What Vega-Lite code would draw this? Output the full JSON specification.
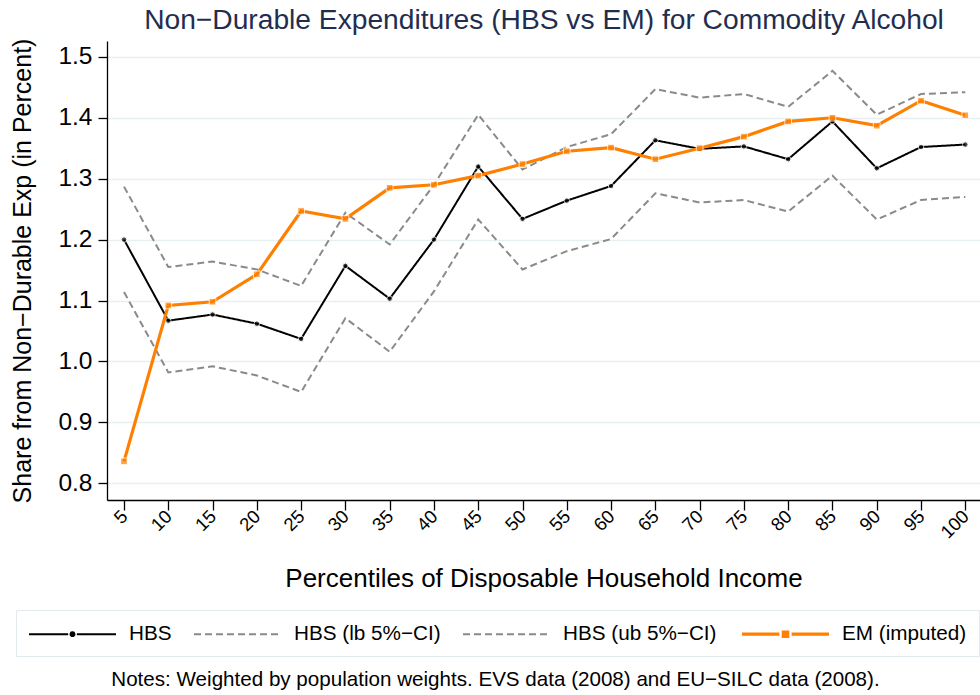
{
  "$schema": "https://vega.github.io/schema/vega-lite/v6.json",
  "width": 873,
  "height": 459,
  "autosize": {"type": "none"},
  "padding": {"left": 107, "top": 41, "right": 0, "bottom": 195},
  "background": "white",
  "config": {
    "view": {"stroke": null},
    "font": "Liberation Sans",
    "axis": {"labelFont": "Liberation Sans", "titleFont": "Liberation Sans", "labelColor": "black", "titleColor": "black", "titleFontWeight": "normal", "domainColor": "black", "tickColor": "black", "domainWidth": 1.3, "tickWidth": 1.3},
    "legend": {"labelFont": "Liberation Sans"},
    "title": {"font": "Liberation Sans"}
  },
  "title": {
    "text": "Notes: Weighted by population weights. EVS data (2008) and EU−SILC data (2008).",
    "orient": "bottom",
    "anchor": "middle",
    "frame": "bounds",
    "fontSize": 20.6,
    "fontWeight": "normal",
    "color": "black",
    "offset": 13
  },
  "data": {
    "values": [
      {"p": 5, "series": "HBS", "v": 1.200}, {"p": 10, "series": "HBS", "v": 1.067}, {"p": 15, "series": "HBS", "v": 1.077}, {"p": 20, "series": "HBS", "v": 1.062},
      {"p": 25, "series": "HBS", "v": 1.037}, {"p": 30, "series": "HBS", "v": 1.157}, {"p": 35, "series": "HBS", "v": 1.103}, {"p": 40, "series": "HBS", "v": 1.200},
      {"p": 45, "series": "HBS", "v": 1.320}, {"p": 50, "series": "HBS", "v": 1.234}, {"p": 55, "series": "HBS", "v": 1.264}, {"p": 60, "series": "HBS", "v": 1.288},
      {"p": 65, "series": "HBS", "v": 1.363}, {"p": 70, "series": "HBS", "v": 1.349}, {"p": 75, "series": "HBS", "v": 1.353}, {"p": 80, "series": "HBS", "v": 1.332},
      {"p": 85, "series": "HBS", "v": 1.394}, {"p": 90, "series": "HBS", "v": 1.317}, {"p": 95, "series": "HBS", "v": 1.352}, {"p": 100, "series": "HBS", "v": 1.356},
      {"p": 5, "series": "HBS (lb 5%−CI)", "v": 1.114}, {"p": 10, "series": "HBS (lb 5%−CI)", "v": 0.982}, {"p": 15, "series": "HBS (lb 5%−CI)", "v": 0.992}, {"p": 20, "series": "HBS (lb 5%−CI)", "v": 0.977},
      {"p": 25, "series": "HBS (lb 5%−CI)", "v": 0.950}, {"p": 30, "series": "HBS (lb 5%−CI)", "v": 1.071}, {"p": 35, "series": "HBS (lb 5%−CI)", "v": 1.016}, {"p": 40, "series": "HBS (lb 5%−CI)", "v": 1.115},
      {"p": 45, "series": "HBS (lb 5%−CI)", "v": 1.233}, {"p": 50, "series": "HBS (lb 5%−CI)", "v": 1.151}, {"p": 55, "series": "HBS (lb 5%−CI)", "v": 1.181}, {"p": 60, "series": "HBS (lb 5%−CI)", "v": 1.201},
      {"p": 65, "series": "HBS (lb 5%−CI)", "v": 1.276}, {"p": 70, "series": "HBS (lb 5%−CI)", "v": 1.261}, {"p": 75, "series": "HBS (lb 5%−CI)", "v": 1.265}, {"p": 80, "series": "HBS (lb 5%−CI)", "v": 1.246},
      {"p": 85, "series": "HBS (lb 5%−CI)", "v": 1.305}, {"p": 90, "series": "HBS (lb 5%−CI)", "v": 1.233}, {"p": 95, "series": "HBS (lb 5%−CI)", "v": 1.265}, {"p": 100, "series": "HBS (lb 5%−CI)", "v": 1.270},
      {"p": 5, "series": "HBS (ub 5%−CI)", "v": 1.287}, {"p": 10, "series": "HBS (ub 5%−CI)", "v": 1.155}, {"p": 15, "series": "HBS (ub 5%−CI)", "v": 1.164}, {"p": 20, "series": "HBS (ub 5%−CI)", "v": 1.151},
      {"p": 25, "series": "HBS (ub 5%−CI)", "v": 1.124}, {"p": 30, "series": "HBS (ub 5%−CI)", "v": 1.244}, {"p": 35, "series": "HBS (ub 5%−CI)", "v": 1.192}, {"p": 40, "series": "HBS (ub 5%−CI)", "v": 1.290},
      {"p": 45, "series": "HBS (ub 5%−CI)", "v": 1.405}, {"p": 50, "series": "HBS (ub 5%−CI)", "v": 1.315}, {"p": 55, "series": "HBS (ub 5%−CI)", "v": 1.352}, {"p": 60, "series": "HBS (ub 5%−CI)", "v": 1.373},
      {"p": 65, "series": "HBS (ub 5%−CI)", "v": 1.447}, {"p": 70, "series": "HBS (ub 5%−CI)", "v": 1.433}, {"p": 75, "series": "HBS (ub 5%−CI)", "v": 1.439}, {"p": 80, "series": "HBS (ub 5%−CI)", "v": 1.418},
      {"p": 85, "series": "HBS (ub 5%−CI)", "v": 1.477}, {"p": 90, "series": "HBS (ub 5%−CI)", "v": 1.405}, {"p": 95, "series": "HBS (ub 5%−CI)", "v": 1.439}, {"p": 100, "series": "HBS (ub 5%−CI)", "v": 1.442},
      {"p": 5, "series": "EM (imputed)", "v": 0.836}, {"p": 10, "series": "EM (imputed)", "v": 1.092}, {"p": 15, "series": "EM (imputed)", "v": 1.098}, {"p": 20, "series": "EM (imputed)", "v": 1.143},
      {"p": 25, "series": "EM (imputed)", "v": 1.247}, {"p": 30, "series": "EM (imputed)", "v": 1.234}, {"p": 35, "series": "EM (imputed)", "v": 1.285}, {"p": 40, "series": "EM (imputed)", "v": 1.290},
      {"p": 45, "series": "EM (imputed)", "v": 1.305}, {"p": 50, "series": "EM (imputed)", "v": 1.324}, {"p": 55, "series": "EM (imputed)", "v": 1.345}, {"p": 60, "series": "EM (imputed)", "v": 1.351},
      {"p": 65, "series": "EM (imputed)", "v": 1.332}, {"p": 70, "series": "EM (imputed)", "v": 1.350}, {"p": 75, "series": "EM (imputed)", "v": 1.369}, {"p": 80, "series": "EM (imputed)", "v": 1.394},
      {"p": 85, "series": "EM (imputed)", "v": 1.400}, {"p": 90, "series": "EM (imputed)", "v": 1.387}, {"p": 95, "series": "EM (imputed)", "v": 1.428}, {"p": 100, "series": "EM (imputed)", "v": 1.404}
    ]
  },
  "resolve": {"axis": {"x": "independent"}},
  "encoding": {
    "y": {
      "field": "v",
      "type": "quantitative",
      "scale": {"domain": [0.7726, 1.526], "nice": false, "zero": false},
      "axis": {
        "values": [0.8, 0.9, 1.0, 1.1, 1.2, 1.3, 1.4, 1.5],
        "format": ".1f",
        "title": "Share from Non−Durable Exp (in Percent)",
        "grid": true,
        "gridColor": "#e7eff2",
        "gridWidth": 1.5,
        "labelFontSize": 24.5,
        "labelPadding": 6,
        "tickSize": 9,
        "titleFontSize": 25,
        "titlePadding": 22
      }
    }
  },
  "layer": [
    {
      "transform": [{"filter": "datum.series !== 'EM (imputed)'"}],
      "mark": {"type": "line", "strokeWidth": 2},
      "encoding": {
        "x": {
          "field": "p",
          "type": "quantitative",
          "scale": {"domain": [3.08, 101.66], "nice": false, "zero": false},
          "axis": {
            "orient": "bottom",
            "values": [5, 10, 15, 20, 25, 30, 35, 40, 45, 50, 55, 60, 65, 70, 75, 80, 85, 90, 95, 100],
            "title": "Percentiles of Disposable Household Income",
            "grid": false,
            "labelAngle": -45,
            "labelAlign": "right",
            "labelBaseline": "middle",
            "labelFontSize": 18.5,
            "labelPadding": 3,
            "labelFlush": false,
            "labelOverlap": false,
            "tickSize": 10,
            "titleFontSize": 26,
            "titlePadding": 24
          }
        },
        "color": {
          "field": "series",
          "type": "nominal",
          "scale": {"domain": ["HBS", "HBS (lb 5%−CI)", "HBS (ub 5%−CI)", "EM (imputed)"], "range": ["black", "#8a8a8a", "#8a8a8a", "#ff8000"]},
          "legend": {
            "orient": "none",
            "legendX": -91,
            "legendY": 569,
            "direction": "horizontal",
            "columns": 4,
            "title": null,
            "padding": 12,
            "strokeColor": "#e3eaee",
            "fillColor": "white",
            "labelFontSize": 20.7,
            "labelColor": "black",
            "labelOffset": 12,
            "columnPadding": 18,
            "symbolSize": 7569,
            "symbolStrokeWidth": 2,
            "encode": {
              "symbols": {
                "update": {
                  "y": {"value": 12},
                  "shape": {"signal": "(datum.value === 'HBS' ? 'M-1,0H-0.1M0.1,0H1M-0.045,0A0.045,0.045 0 1,0 0.045,0A0.045,0.045 0 1,0 -0.045,0Z' : (datum.value === 'EM (imputed)' ? 'M-1,0H-0.14M0.14,0H1M-0.05,-0.05H0.05V0.05H-0.05Z' : 'M-1,0H1'))"},
                  "fill": {"signal": "(datum.value === 'HBS' ? 'black' : (datum.value === 'EM (imputed)' ? '#ff8000' : 'transparent'))"},
                  "strokeWidth": {"signal": "(datum.value === 'EM (imputed)' ? 3.2 : 2)"}
                }
              },
              "labels": {
                "update": {
                  "y": {"value": 12}
                }
              }
            }
          }
        },
        "strokeDash": {
          "field": "series",
          "type": "nominal",
          "scale": {"domain": ["HBS", "HBS (lb 5%−CI)", "HBS (ub 5%−CI)", "EM (imputed)"], "range": [[1, 0], [7, 4], [7, 4], [1, 0]]},
          "legend": {
            "orient": "none",
            "legendX": -91,
            "legendY": 569,
            "direction": "horizontal",
            "columns": 4,
            "title": null,
            "padding": 12,
            "strokeColor": "#e3eaee",
            "fillColor": "white",
            "labelFontSize": 20.7,
            "labelColor": "black",
            "labelOffset": 12,
            "columnPadding": 18,
            "symbolSize": 7569,
            "symbolStrokeWidth": 2
          }
        }
      }
    },
    {
      "transform": [{"filter": "datum.series === 'HBS'"}],
      "mark": {"type": "point", "shape": "circle", "filled": true, "size": 30, "color": "black", "stroke": "white", "strokeWidth": 1},
      "encoding": {
        "x": {"field": "p", "type": "quantitative", "axis": null}
      }
    },
    {
      "transform": [{"filter": "datum.series === 'EM (imputed)'"}],
      "mark": {"type": "line", "strokeWidth": 3.2, "color": "#ff8000"},
      "encoding": {
        "x": {
          "field": "p",
          "type": "quantitative",
          "axis": {
            "orient": "top",
            "title": "Non−Durable Expenditures (HBS vs EM) for Commodity Alcohol",
            "labels": false,
            "ticks": false,
            "domain": false,
            "grid": false,
            "titleFontSize": 28.2,
            "titleColor": "#1f2e50",
            "titlePadding": 7
          }
        }
      }
    },
    {
      "transform": [{"filter": "datum.series === 'EM (imputed)'"}],
      "mark": {"type": "point", "shape": "square", "filled": true, "size": 45, "color": "#ff8000", "stroke": "white", "strokeWidth": 1},
      "encoding": {
        "x": {"field": "p", "type": "quantitative", "axis": null}
      }
    }
  ]
}
